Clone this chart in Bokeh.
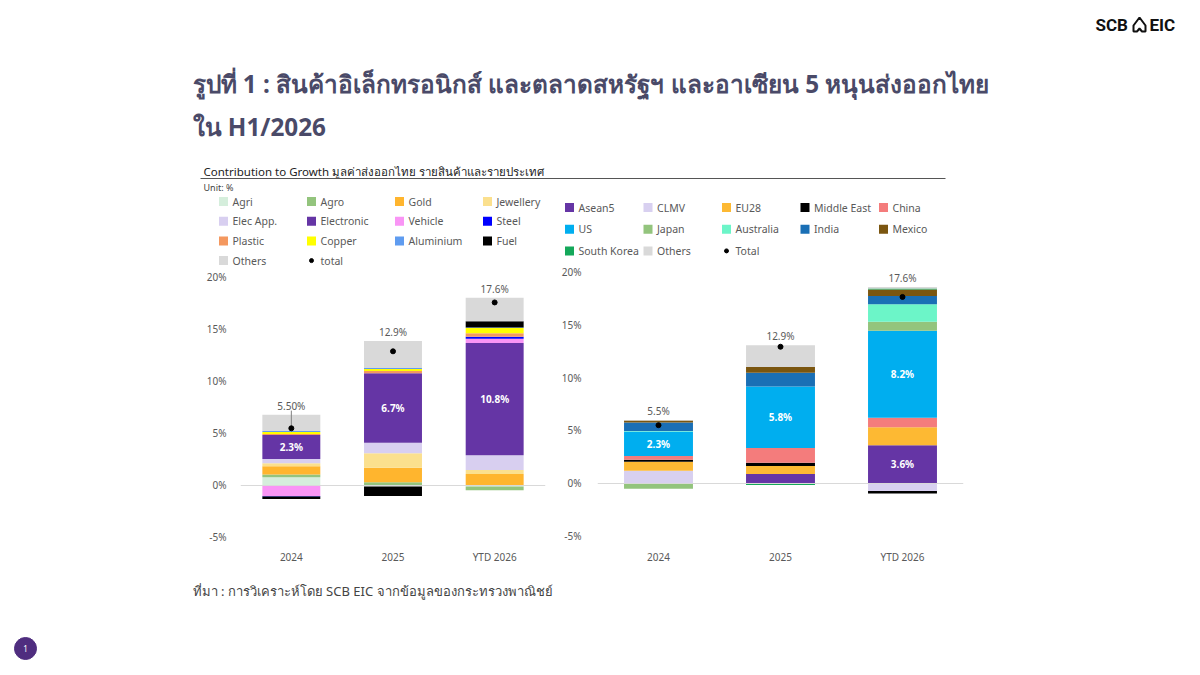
from bokeh.plotting import figure
from bokeh.models import Range1d, FactorRange, Span, FixedTicker, PrintfTickFormatter, Spacer
from bokeh.layouts import column, row
from bokeh.core.properties import value
from bokeh.embed import file_html
from bokeh.resources import INLINE

FONT = "Noto Sans"
GREY_TXT = "#595959"

years = ["2024", "2025", "YTD 2026"]

# ---- contribution by product (percentage points) ----
product_names = ["Agri", "Agro", "Gold", "Jewellery", "Elec App.", "Electronic", "Vehicle",
                 "Steel", "Plastic", "Copper", "Aluminium", "Fuel", "Others"]
product_colors = ["#d5eedc", "#93c47d", "#ffb52e", "#fbe08e", "#d8cff0", "#6535a5", "#f995f5",
                  "#0000ff", "#f4985f", "#ffff00", "#5f9cf0", "#000000", "#d9d9d9"]
agri = [0.8, -0.1, -0.1]
agro = [0.25, 0.3, -0.35]
gold = [0.8, 1.4, 1.1]
jewellery = [0.3, 1.4, 0.4]
elec_app = [0.4, 1.0, 1.4]
electronic = [2.3, 6.7, 10.8]
vehicle = [-1.0, 0.0, 0.4]
steel = [-0.05, 0.0, 0.2]
plastic = [0.1, 0.2, 0.35]
copper = [0.2, 0.2, 0.5]
aluminium = [0.1, 0.1, 0.05]
fuel = [-0.25, -0.9, 0.6]
others_p = [1.55, 2.6, 2.25]
product_total = [5.5, 12.9, 17.6]
product_total_labels = ["5.50%", "12.9%", "17.6%"]

# ---- contribution by market (percentage points) ----
market_names = ["Asean5", "CLMV", "EU28", "Middle East", "China", "US", "Japan",
                "Australia", "India", "Mexico", "South Korea", "Others"]
market_colors = ["#6535a5", "#d8d0f0", "#fdb933", "#000000", "#f47c7c", "#00aeef", "#93c47d",
                 "#6cf5c8", "#1a6fb5", "#7b5610", "#14a85a", "#d9d9d9"]
asean5 = [0.0, 0.9, 3.6]
clmv = [1.2, 0.0, -0.7]
eu28 = [0.85, 0.75, 1.7]
middle_east = [0.2, 0.3, -0.25]
china = [0.35, 1.4, 0.9]
us = [2.3, 5.8, 8.2]
japan = [-0.5, 0.0, 0.85]
australia = [0.05, 0.0, 1.65]
india = [0.8, 1.3, 0.8]
mexico = [0.2, 0.55, 0.6]
south_korea = [0.0, -0.15, 0.1]
others_m = [0.05, 2.05, 0.15]
market_total = [5.5, 12.9, 17.6]
market_total_labels = ["5.5%", "12.9%", "17.6%"]

product_series = [agri, agro, gold, jewellery, elec_app, electronic, vehicle,
                  steel, plastic, copper, aluminium, fuel, others_p]
market_series = [asean5, clmv, eu28, middle_east, china, us, japan,
                 australia, india, mexico, south_korea, others_m]


def stack(series):
    """Split positive and negative values into separate stacks."""
    n = len(series[0])
    pos = [0.0] * n
    neg = [0.0] * n
    out = []
    for s in series:
        bottoms, tops = [], []
        for i, v in enumerate(s):
            if v >= 0:
                bottoms.append(pos[i]); tops.append(pos[i] + v); pos[i] += v
            else:
                tops.append(neg[i]); bottoms.append(neg[i] + v); neg[i] += v
        out.append((bottoms, tops))
    return out, pos


def canvas(x0, x1, y0, y1):
    f = figure(width=x1 - x0, height=y1 - y0, x_range=Range1d(x0, x1), y_range=Range1d(y1, y0),
               x_axis_type=None, y_axis_type=None, output_backend="svg", toolbar_location=None,
               min_border=0, frame_align=False)
    f.grid.visible = False
    f.outline_line_color = None
    return f


def txt(f, x, y, s, size, color="#333333", align="left", style="normal", baseline="middle", font=FONT):
    f.text(x=[x], y=[y], text=[s], text_font=value(font), text_font_size=value(size),
           text_color=color, text_align=align, text_baseline=baseline, text_font_style=style)


def chart(width, height, ylo, yhi, bl, br, ystandoff, series, colors, totals, total_labels,
          bar_w, inner, leader):
    p = figure(width=width, height=height, x_range=FactorRange(*years), y_range=Range1d(ylo, yhi),
               output_backend="svg", toolbar_location=None, frame_align=False,
               min_border_left=bl, min_border_right=br, min_border_top=0, min_border_bottom=30)
    p.grid.visible = False
    p.outline_line_color = None
    for ax in (p.xaxis, p.yaxis):
        ax.axis_line_color = None
        ax.major_tick_line_color = None
        ax.minor_tick_line_color = None
        ax.major_tick_out = 0
        ax.major_tick_in = 0
        ax.minor_tick_out = 0
        ax.major_label_text_font = FONT
        ax.major_label_text_font_size = "10px"
        ax.major_label_text_color = GREY_TXT
    p.yaxis.ticker = FixedTicker(ticks=[-5, 0, 5, 10, 15, 20])
    p.yaxis.formatter = PrintfTickFormatter(format="%d%%")
    p.yaxis.major_label_standoff = ystandoff
    p.xaxis.major_label_standoff = 4
    p.add_layout(Span(location=0, dimension="width", line_color="#d9d9d9", line_width=1))

    stacks, pos_top = stack(series)
    for (b, t), c in zip(stacks, colors):
        p.vbar(x=years, bottom=b, top=t, width=bar_w, fill_color=c, line_color=None)

    # value labels inside selected segments
    for idx, mask in inner:
        b, t = stacks[idx]
        for i, show in enumerate(mask):
            if show:
                v = series[idx][i]
                p.text(x=[years[i]], y=[(b[i] + t[i]) / 2], text=[f"{v:.1f}%"],
                       text_font=value(FONT), text_font_size=value("10px"), text_font_style="bold",
                       text_color="white", text_align="center", text_baseline="middle")

    for i, show in enumerate(leader):
        if show:
            p.segment(x0=[years[i]], y0=[totals[i]], x1=[years[i]], y1=[pos_top[i] + 0.4],
                      line_color="#808080", line_width=1)

    p.scatter(x=years, y=totals, size=5, color="black")
    p.text(x=years, y=pos_top, text=total_labels, y_offset=-9,
           text_font=value(FONT), text_font_size=value("10px"), text_color=GREY_TXT,
           text_align="center", text_baseline="middle")
    return p


def legend(f, names, colors, x_start, x_step, y_start, y_step, ncols, dot_label):
    items = list(zip(names, colors)) + [(dot_label, None)]
    for i, (name, c) in enumerate(items):
        cx = x_start + (i % ncols) * x_step
        cy = y_start + (i // ncols) * y_step
        if c is None:
            f.scatter(x=[cx + 5], y=[cy], size=4, color="black")
        else:
            f.scatter(x=[cx + 5], y=[cy], marker="square", size=9, fill_color=c, line_color=None)
        txt(f, cx + 14, cy, name, "10.5px", color=GREY_TXT)


# ---- header ----
header = canvas(0, 1200, 0, 182)
txt(header, 1095, 24, "SCB", "17px", color="#111111", style="bold", font="Roboto")
txt(header, 1149, 24, "EIC", "17px", color="#111111", style="bold", font="Roboto")
header.patch(x=[1133, 1133, 1139, 1145, 1145, 1141.5, 1139, 1136.5],
             y=[31, 25, 17, 25, 31, 31, 28, 31],
             fill_color=None, line_color="#111111", line_width=2)
title_color = "#4a4a68"
txt(header, 192, 83, "รูปที่ 1 : สินค้าอิเล็กทรอนิกส์ และตลาดสหรัฐฯ และอาเซียน 5 หนุนส่งออกไทย",
    "24.3px", color=title_color, style="bold")
txt(header, 192, 126, "ใน H1/2026", "24.3px", color=title_color, style="bold")
txt(header, 203, 171, "Contribution to Growth มูลค่าส่งออกไทย รายสินค้าและรายประเทศ",
    "11.5px", color="#222222")
header.segment(x0=[200], y0=[178], x1=[945], y1=[178], line_color="#555555", line_width=1)

# ---- product chart ----
left_leg = canvas(190, 550, 182, 267)
txt(left_leg, 203, 187, "Unit: %", "9px", color="#444444")
legend(left_leg, product_names, product_colors, 218, 88, 201, 19.7, 4, "total")

left_chart = chart(360, 308, -5.77, 20.96, 50, 5, 14, product_series, product_colors,
                   product_total, product_total_labels, 0.57,
                   inner=[(5, [True, True, True])], leader=[True, False, False])

# ---- market chart ----
right_leg = canvas(550, 970, 182, 262)
legend(right_leg, market_names, market_colors, 564, 78.5, 207, 21.7, 5, "Total")

right_chart = chart(420, 313, -5.85, 20.85, 47, 7, 16, market_series, market_colors,
                    market_total, market_total_labels, 0.565,
                    inner=[(5, [True, True, True]), (0, [False, False, True])],
                    leader=[False, False, False])

# ---- footer ----
footer = canvas(0, 1200, 575, 675)
txt(footer, 192, 590, "ที่มา : การวิเคราะห์โดย SCB EIC จากข้อมูลของกระทรวงพาณิชย์", "13px", color="#444444")
footer.scatter(x=[25], y=[648], size=22, color="#4f2d7f")
txt(footer, 25, 648, "1", "8px", color="white", align="center")

page = column(
    header,
    row(Spacer(width=190, height=393),
        column(left_leg, left_chart),
        column(right_leg, right_chart),
        Spacer(width=230, height=393)),
    footer,
)

open("out.html", "w").write(file_html(page, INLINE))
